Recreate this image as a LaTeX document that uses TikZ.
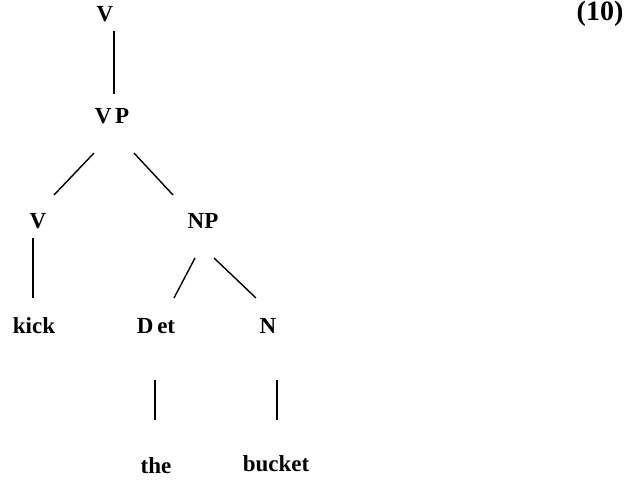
\documentclass[tikz,border=0pt]{standalone}
\usepackage{fontspec}
\setmainfont{Liberation Serif}
\begin{document}
\begin{tikzpicture}[x=1pt,y=-1pt,
  lab/.style={inner sep=0pt,font=\fontsize{23}{26}\selectfont\bfseries},
  edge/.style={line width=1.4pt}]
\useasboundingbox (0,0) rectangle (630,481);
\node[lab] (v0) at (105,14) {V};
\node[lab] (vp) at (112,116) {V\,P};
\node[lab] (v1) at (38,221) {V};
\node[lab] (np) at (203,221) {NP};
\node[lab] (kick) at (34,326) {kick};
\node[lab] (det) at (156,326) {D\,et};
\node[lab] (n) at (268,326) {N};
\node[lab] (the) at (156,466) {the};
\node[lab] (bucket) at (276,464) {bucket};
\node[inner sep=0pt,font=\fontsize{28}{32}\selectfont\bfseries] (num) at (600,14) {(10)};
\draw[edge] (114,31) -- (114,94);
\draw[edge] (94,153) -- (54,195);
\draw[edge] (134,153) -- (173,195);
\draw[edge] (33,238) -- (33,298);
\draw[edge] (195,258) -- (174,298);
\draw[edge] (214,258) -- (256,298);
\draw[edge] (155,380) -- (155,420);
\draw[edge] (277,380) -- (277,420);
\end{tikzpicture}
\end{document}
